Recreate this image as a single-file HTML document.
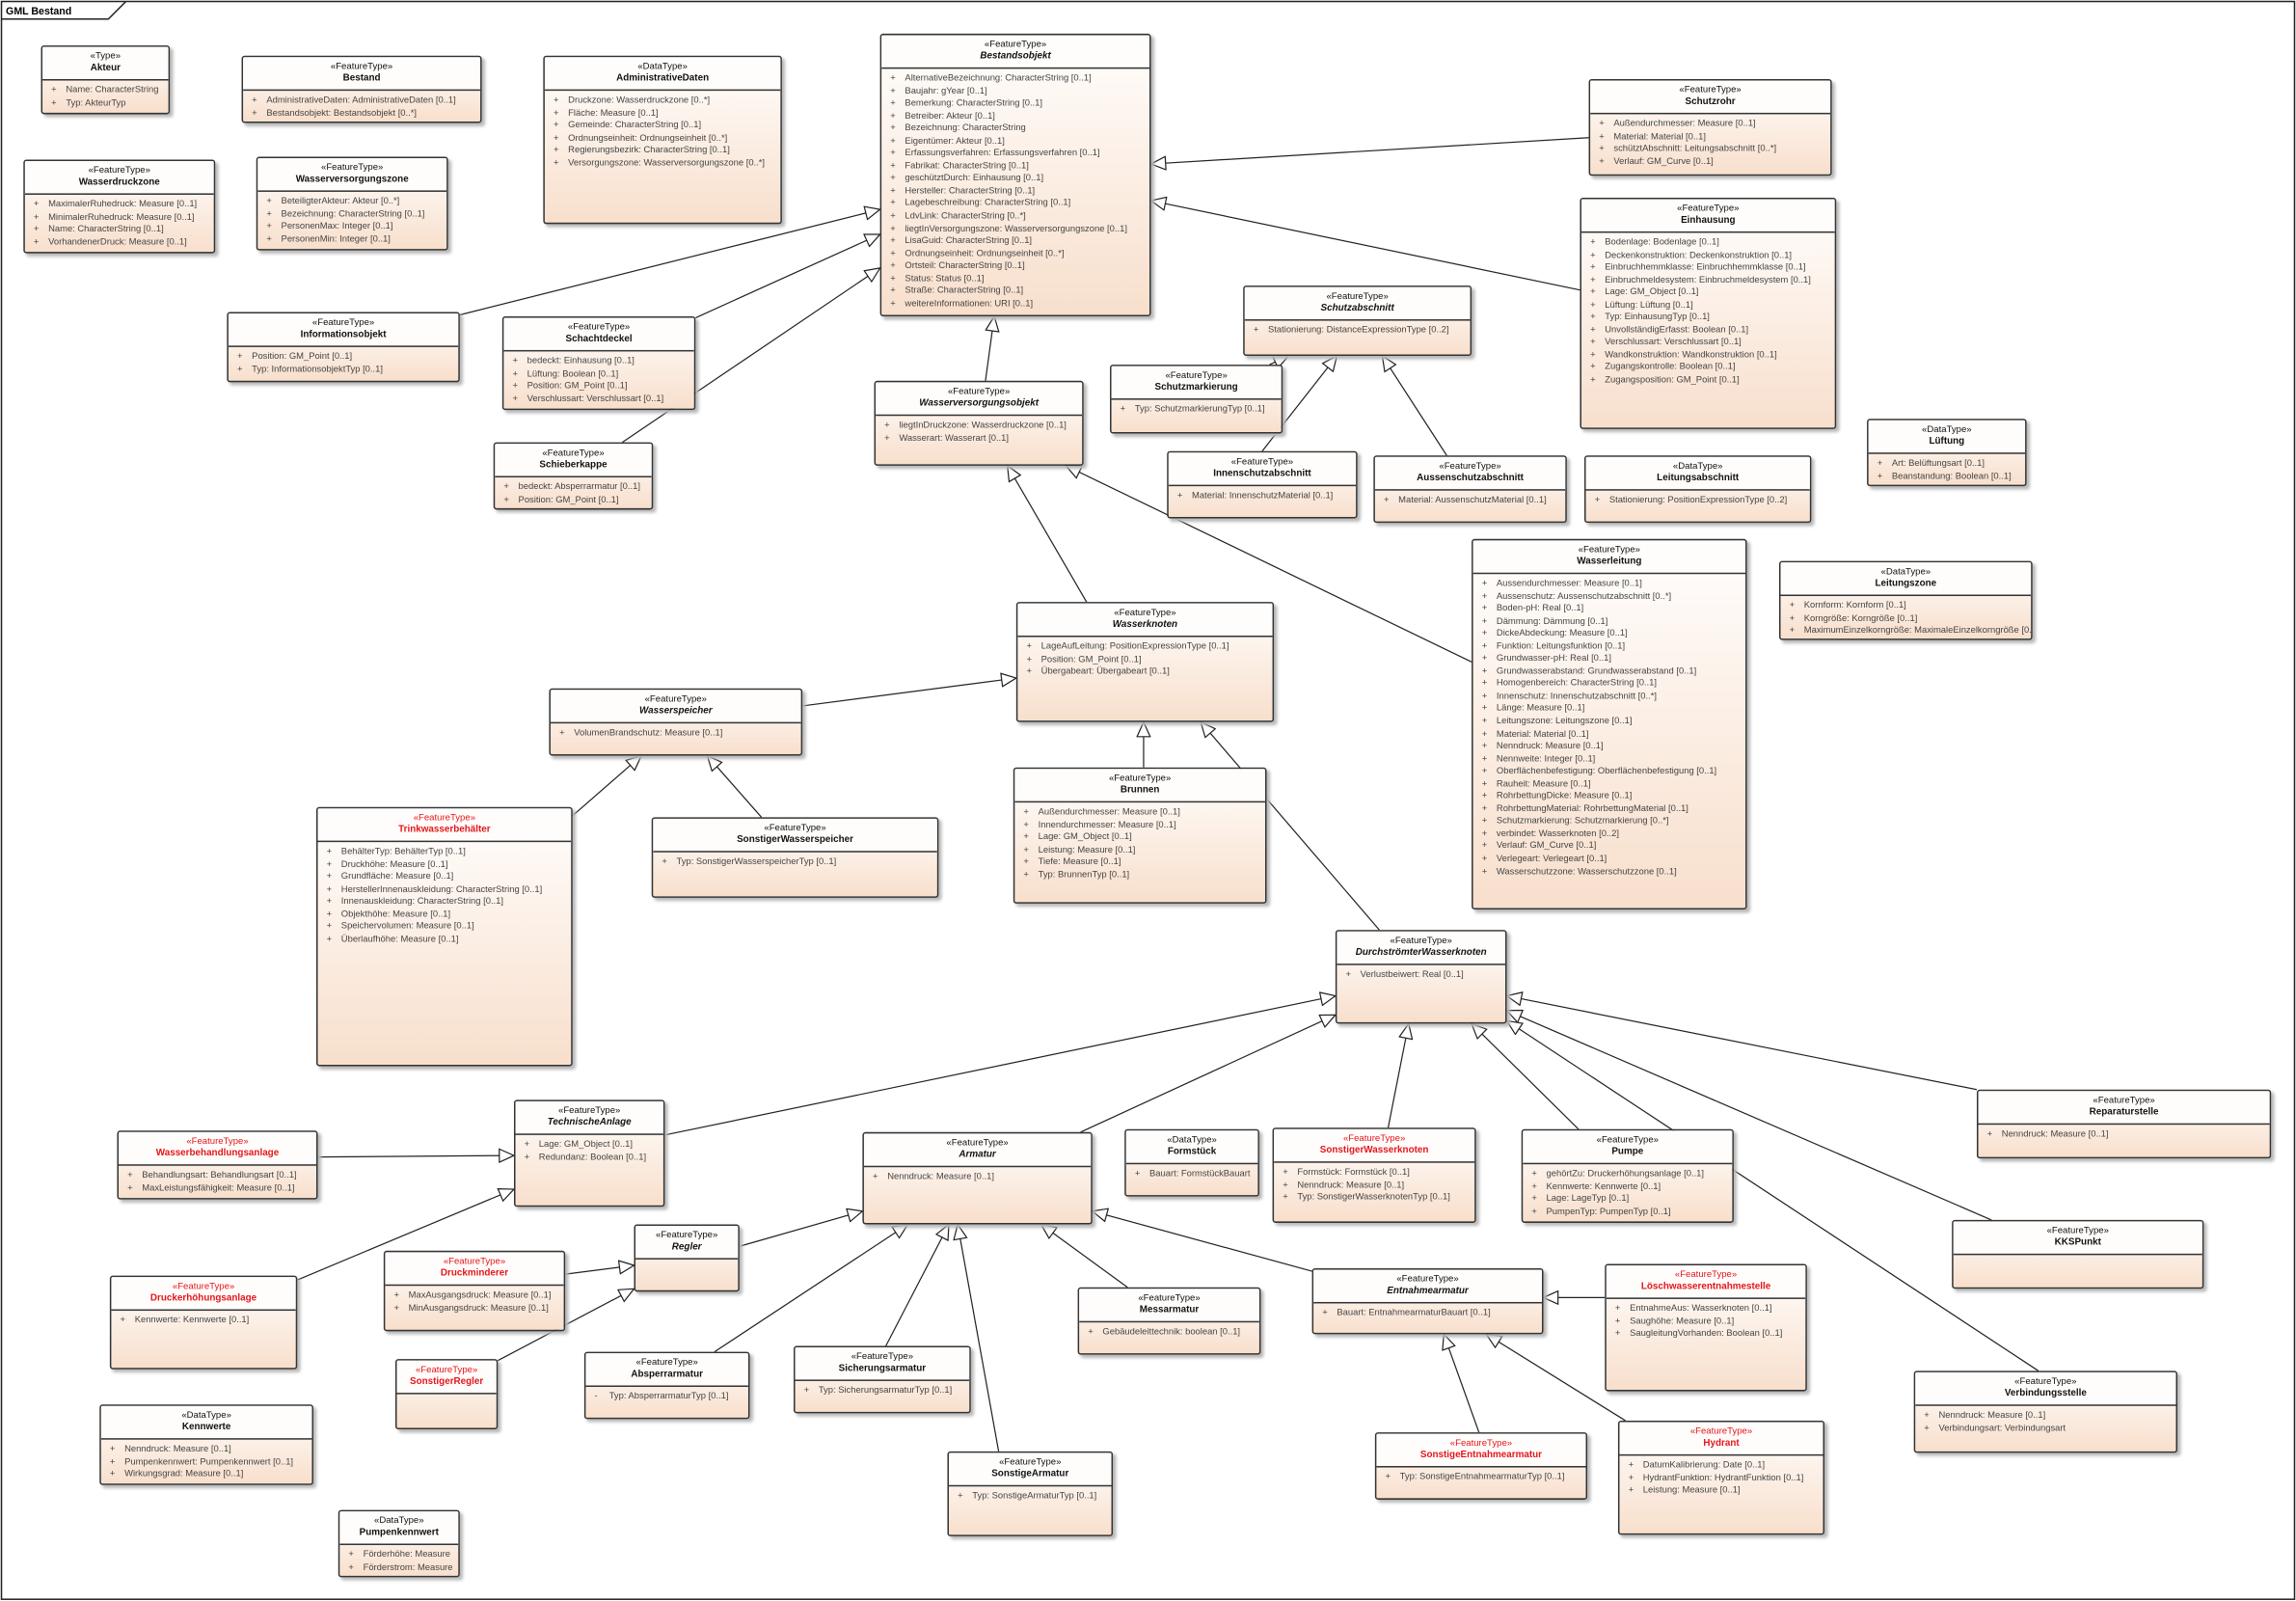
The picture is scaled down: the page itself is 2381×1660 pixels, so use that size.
<!DOCTYPE html>
<html><head><meta charset="utf-8">
<style>
html,body{margin:0;padding:0;background:#fff;width:2381px;height:1660px;overflow:hidden}
#c{position:absolute;left:0;top:0;width:1568px;height:1093px;transform:scale(1.5185);transform-origin:0 0;font-family:"Liberation Sans",sans-serif}
.b{position:absolute;box-sizing:border-box;border:1px solid #333;border-radius:2px;background:linear-gradient(#fffefd,#f8dfcc);box-shadow:2px 2px 2px #b8b8b8;overflow:hidden}
.h{text-align:center;border-bottom:1px solid #333;padding:3px 0 3px;background:#fffdfb}
.s{font-size:6.3px;line-height:8px;color:#111}
.n{font-size:6.5px;line-height:8px;font-weight:bold;color:#111}
.i .n{font-style:italic}
.r .s,.r .n{color:#e3161b}
.a{padding:3px 0 0 6px;font-size:6.2px;color:#444}
.a p{margin:0;white-space:nowrap;line-height:8.55px}
.a p span{display:inline-block;width:10px}
svg{position:absolute;left:0;top:0}
</style></head><body><div id="c">
<svg width="1568" height="1093" viewBox="0 0 1568 1093">
<defs><marker id="t" markerWidth="12" markerHeight="10" refX="11" refY="5" orient="auto" markerUnits="userSpaceOnUse"><path d="M1,0.5 L11,5 L1,9.5 Z" fill="#fff" stroke="#222" stroke-width="0.8"/></marker></defs>
<rect x="1" y="1" width="1566" height="1091" fill="none" stroke="#222" stroke-width="1"/>
<path d="M1,13 H74 L86,1" fill="none" stroke="#222" stroke-width="1"/>
<text x="4" y="10" font-size="7" font-weight="bold" font-family="Liberation Sans,sans-serif">GML Bestand</text>
<g stroke="#222" stroke-width="0.8" fill="none" marker-end="url(#t)">
<line x1="314" y1="215" x2="601" y2="143"/>
<line x1="475" y1="217" x2="601" y2="160"/>
<line x1="425" y1="302" x2="601" y2="183"/>
<line x1="1085" y1="94" x2="786" y2="112"/>
<line x1="1079" y1="198" x2="786" y2="137"/>
<line x1="673" y1="260" x2="679" y2="216"/>
<line x1="867" y1="249" x2="880" y2="243"/>
<line x1="862" y1="308" x2="913" y2="243"/>
<line x1="988" y1="311" x2="944" y2="243"/>
<line x1="742" y1="411" x2="688" y2="318"/>
<line x1="1005" y1="452" x2="728" y2="318"/>
<line x1="548" y1="482" x2="694" y2="463"/>
<line x1="391" y1="557" x2="438" y2="516"/>
<line x1="520" y1="558" x2="483" y2="516"/>
<line x1="781" y1="524" x2="781" y2="493"/>
<line x1="942" y1="635" x2="820" y2="493"/>
<line x1="454" y1="775" x2="912" y2="680"/>
<line x1="738" y1="773" x2="912" y2="693"/>
<line x1="948" y1="770" x2="962" y2="699"/>
<line x1="1078" y1="771" x2="1005" y2="699"/>
<line x1="1350" y1="744" x2="1029" y2="680"/>
<line x1="1360" y1="833" x2="1029" y2="690"/>
<line x1="1392" y1="936" x2="1029" y2="697"/>
<line x1="217" y1="790" x2="351" y2="789"/>
<line x1="203" y1="874" x2="351" y2="812"/>
<line x1="505" y1="851" x2="589" y2="827"/>
<line x1="386" y1="870" x2="433" y2="864"/>
<line x1="340" y1="929" x2="433" y2="880"/>
<line x1="488" y1="923" x2="620" y2="836"/>
<line x1="605" y1="919" x2="648" y2="836"/>
<line x1="682" y1="991" x2="654" y2="836"/>
<line x1="770" y1="879" x2="711" y2="836"/>
<line x1="896" y1="868" x2="746" y2="827"/>
<line x1="1096" y1="886" x2="1054" y2="886"/>
<line x1="1010" y1="978" x2="986" y2="911"/>
<line x1="1110" y1="970" x2="1015" y2="911"/>
</g>
</svg>

<div class="b" style="left:28px;top:31px;width:88px;height:47px"><div class="h"><div class="s">«Type»</div><div class="n">Akteur</div></div><div class="a"><p><span>+</span>Name: CharacterString</p><p><span>+</span>Typ: AkteurTyp</p></div></div>

<div class="b" style="left:165px;top:38px;width:164px;height:46px"><div class="h"><div class="s">«FeatureType»</div><div class="n">Bestand</div></div><div class="a"><p><span>+</span>AdministrativeDaten: AdministrativeDaten [0..1]</p><p><span>+</span>Bestandsobjekt: Bestandsobjekt [0..*]</p></div></div>

<div class="b" style="left:371px;top:38px;width:163px;height:115px"><div class="h"><div class="s">«DataType»</div><div class="n">AdministrativeDaten</div></div><div class="a"><p><span>+</span>Druckzone: Wasserdruckzone [0..*]</p><p><span>+</span>Fläche: Measure [0..1]</p><p><span>+</span>Gemeinde: CharacterString [0..1]</p><p><span>+</span>Ordnungseinheit: Ordnungseinheit [0..*]</p><p><span>+</span>Regierungsbezirk: CharacterString [0..1]</p><p><span>+</span>Versorgungszone: Wasserversorgungszone [0..*]</p></div></div>

<div class="b i" style="left:601px;top:23px;width:185px;height:193px"><div class="h"><div class="s">«FeatureType»</div><div class="n">Bestandsobjekt</div></div><div class="a"><p><span>+</span>AlternativeBezeichnung: CharacterString [0..1]</p><p><span>+</span>Baujahr: gYear [0..1]</p><p><span>+</span>Bemerkung: CharacterString [0..1]</p><p><span>+</span>Betreiber: Akteur [0..1]</p><p><span>+</span>Bezeichnung: CharacterString</p><p><span>+</span>Eigentümer: Akteur [0..1]</p><p><span>+</span>Erfassungsverfahren: Erfassungsverfahren [0..1]</p><p><span>+</span>Fabrikat: CharacterString [0..1]</p><p><span>+</span>geschütztDurch: Einhausung [0..1]</p><p><span>+</span>Hersteller: CharacterString [0..1]</p><p><span>+</span>Lagebeschreibung: CharacterString [0..1]</p><p><span>+</span>LdvLink: CharacterString [0..*]</p><p><span>+</span>liegtInVersorgungszone: Wasserversorgungszone [0..1]</p><p><span>+</span>LisaGuid: CharacterString [0..1]</p><p><span>+</span>Ordnungseinheit: Ordnungseinheit [0..*]</p><p><span>+</span>Ortsteil: CharacterString [0..1]</p><p><span>+</span>Status: Status [0..1]</p><p><span>+</span>Straße: CharacterString [0..1]</p><p><span>+</span>weitereInformationen: URI [0..1]</p></div></div>

<div class="b" style="left:1085px;top:54px;width:166px;height:66px"><div class="h"><div class="s">«FeatureType»</div><div class="n">Schutzrohr</div></div><div class="a"><p><span>+</span>Außendurchmesser: Measure [0..1]</p><p><span>+</span>Material: Material [0..1]</p><p><span>+</span>schütztAbschnitt: Leitungsabschnitt [0..*]</p><p><span>+</span>Verlauf: GM_Curve [0..1]</p></div></div>

<div class="b" style="left:1079px;top:135px;width:175px;height:158px"><div class="h"><div class="s">«FeatureType»</div><div class="n">Einhausung</div></div><div class="a"><p><span>+</span>Bodenlage: Bodenlage [0..1]</p><p><span>+</span>Deckenkonstruktion: Deckenkonstruktion [0..1]</p><p><span>+</span>Einbruchhemmklasse: Einbruchhemmklasse [0..1]</p><p><span>+</span>Einbruchmeldesystem: Einbruchmeldesystem [0..1]</p><p><span>+</span>Lage: GM_Object [0..1]</p><p><span>+</span>Lüftung: Lüftung [0..1]</p><p><span>+</span>Typ: EinhausungTyp [0..1]</p><p><span>+</span>UnvollständigErfasst: Boolean [0..1]</p><p><span>+</span>Verschlussart: Verschlussart [0..1]</p><p><span>+</span>Wandkonstruktion: Wandkonstruktion [0..1]</p><p><span>+</span>Zugangskontrolle: Boolean [0..1]</p><p><span>+</span>Zugangsposition: GM_Point [0..1]</p></div></div>

<div class="b" style="left:16px;top:109px;width:131px;height:64px"><div class="h"><div class="s">«FeatureType»</div><div class="n">Wasserdruckzone</div></div><div class="a"><p><span>+</span>MaximalerRuhedruck: Measure [0..1]</p><p><span>+</span>MinimalerRuhedruck: Measure [0..1]</p><p><span>+</span>Name: CharacterString [0..1]</p><p><span>+</span>VorhandenerDruck: Measure [0..1]</p></div></div>

<div class="b" style="left:175px;top:107px;width:131px;height:64px"><div class="h"><div class="s">«FeatureType»</div><div class="n">Wasserversorgungszone</div></div><div class="a"><p><span>+</span>BeteiligterAkteur: Akteur [0..*]</p><p><span>+</span>Bezeichnung: CharacterString [0..1]</p><p><span>+</span>PersonenMax: Integer [0..1]</p><p><span>+</span>PersonenMin: Integer [0..1]</p></div></div>

<div class="b" style="left:155px;top:213px;width:159px;height:48px"><div class="h"><div class="s">«FeatureType»</div><div class="n">Informationsobjekt</div></div><div class="a"><p><span>+</span>Position: GM_Point [0..1]</p><p><span>+</span>Typ: InformationsobjektTyp [0..1]</p></div></div>

<div class="b" style="left:343px;top:216px;width:132px;height:64px"><div class="h"><div class="s">«FeatureType»</div><div class="n">Schachtdeckel</div></div><div class="a"><p><span>+</span>bedeckt: Einhausung [0..1]</p><p><span>+</span>Lüftung: Boolean [0..1]</p><p><span>+</span>Position: GM_Point [0..1]</p><p><span>+</span>Verschlussart: Verschlussart [0..1]</p></div></div>

<div class="b" style="left:337px;top:302px;width:109px;height:46px"><div class="h"><div class="s">«FeatureType»</div><div class="n">Schieberkappe</div></div><div class="a"><p><span>+</span>bedeckt: Absperrarmatur [0..1]</p><p><span>+</span>Position: GM_Point [0..1]</p></div></div>

<div class="b i" style="left:849px;top:195px;width:156px;height:48px"><div class="h"><div class="s">«FeatureType»</div><div class="n">Schutzabschnitt</div></div><div class="a"><p><span>+</span>Stationierung: DistanceExpressionType [0..2]</p></div></div>

<div class="b" style="left:758px;top:249px;width:118px;height:47px"><div class="h"><div class="s">«FeatureType»</div><div class="n">Schutzmarkierung</div></div><div class="a"><p><span>+</span>Typ: SchutzmarkierungTyp [0..1]</p></div></div>

<div class="b i" style="left:597px;top:260px;width:143px;height:58px"><div class="h"><div class="s">«FeatureType»</div><div class="n">Wasserversorgungsobjekt</div></div><div class="a"><p><span>+</span>liegtInDruckzone: Wasserdruckzone [0..1]</p><p><span>+</span>Wasserart: Wasserart [0..1]</p></div></div>

<div class="b" style="left:797px;top:308px;width:130px;height:46px"><div class="h"><div class="s">«FeatureType»</div><div class="n">Innenschutzabschnitt</div></div><div class="a"><p><span>+</span>Material: InnenschutzMaterial [0..1]</p></div></div>

<div class="b" style="left:938px;top:311px;width:132px;height:46px"><div class="h"><div class="s">«FeatureType»</div><div class="n">Aussenschutzabschnitt</div></div><div class="a"><p><span>+</span>Material: AussenschutzMaterial [0..1]</p></div></div>

<div class="b" style="left:1082px;top:311px;width:155px;height:46px"><div class="h"><div class="s">«DataType»</div><div class="n">Leitungsabschnitt</div></div><div class="a"><p><span>+</span>Stationierung: PositionExpressionType [0..2]</p></div></div>

<div class="b" style="left:1275px;top:286px;width:109px;height:46px"><div class="h"><div class="s">«DataType»</div><div class="n">Lüftung</div></div><div class="a"><p><span>+</span>Art: Belüftungsart [0..1]</p><p><span>+</span>Beanstandung: Boolean [0..1]</p></div></div>

<div class="b" style="left:1005px;top:368px;width:188px;height:253px"><div class="h"><div class="s">«FeatureType»</div><div class="n">Wasserleitung</div></div><div class="a"><p><span>+</span>Aussendurchmesser: Measure [0..1]</p><p><span>+</span>Aussenschutz: Aussenschutzabschnitt [0..*]</p><p><span>+</span>Boden-pH: Real [0..1]</p><p><span>+</span>Dämmung: Dämmung [0..1]</p><p><span>+</span>DickeAbdeckung: Measure [0..1]</p><p><span>+</span>Funktion: Leitungsfunktion [0..1]</p><p><span>+</span>Grundwasser-pH: Real [0..1]</p><p><span>+</span>Grundwasserabstand: Grundwasserabstand [0..1]</p><p><span>+</span>Homogenbereich: CharacterString [0..1]</p><p><span>+</span>Innenschutz: Innenschutzabschnitt [0..*]</p><p><span>+</span>Länge: Measure [0..1]</p><p><span>+</span>Leitungszone: Leitungszone [0..1]</p><p><span>+</span>Material: Material [0..1]</p><p><span>+</span>Nenndruck: Measure [0..1]</p><p><span>+</span>Nennweite: Integer [0..1]</p><p><span>+</span>Oberflächenbefestigung: Oberflächenbefestigung [0..1]</p><p><span>+</span>Rauheit: Measure [0..1]</p><p><span>+</span>RohrbettungDicke: Measure [0..1]</p><p><span>+</span>RohrbettungMaterial: RohrbettungMaterial [0..1]</p><p><span>+</span>Schutzmarkierung: Schutzmarkierung [0..*]</p><p><span>+</span>verbindet: Wasserknoten [0..2]</p><p><span>+</span>Verlauf: GM_Curve [0..1]</p><p><span>+</span>Verlegeart: Verlegeart [0..1]</p><p><span>+</span>Wasserschutzzone: Wasserschutzzone [0..1]</p></div></div>

<div class="b" style="left:1215px;top:383px;width:173px;height:54px"><div class="h"><div class="s">«DataType»</div><div class="n">Leitungszone</div></div><div class="a"><p><span>+</span>Kornform: Kornform [0..1]</p><p><span>+</span>Korngröße: Korngröße [0..1]</p><p><span>+</span>MaximumEinzelkorngröße: MaximaleEinzelkorngröße [0..1]</p></div></div>

<div class="b i" style="left:694px;top:411px;width:176px;height:82px"><div class="h"><div class="s">«FeatureType»</div><div class="n">Wasserknoten</div></div><div class="a"><p><span>+</span>LageAufLeitung: PositionExpressionType [0..1]</p><p><span>+</span>Position: GM_Point [0..1]</p><p><span>+</span>Übergabeart: Übergabeart [0..1]</p></div></div>

<div class="b i" style="left:375px;top:470px;width:173px;height:46px"><div class="h"><div class="s">«FeatureType»</div><div class="n">Wasserspeicher</div></div><div class="a"><p><span>+</span>VolumenBrandschutz: Measure [0..1]</p></div></div>

<div class="b" style="left:692px;top:524px;width:173px;height:93px"><div class="h"><div class="s">«FeatureType»</div><div class="n">Brunnen</div></div><div class="a"><p><span>+</span>Außendurchmesser: Measure [0..1]</p><p><span>+</span>Innendurchmesser: Measure [0..1]</p><p><span>+</span>Lage: GM_Object [0..1]</p><p><span>+</span>Leistung: Measure [0..1]</p><p><span>+</span>Tiefe: Measure [0..1]</p><p><span>+</span>Typ: BrunnenTyp [0..1]</p></div></div>

<div class="b r" style="left:216px;top:551px;width:175px;height:177px"><div class="h"><div class="s">«FeatureType»</div><div class="n">Trinkwasserbehälter</div></div><div class="a"><p><span>+</span>BehälterTyp: BehälterTyp [0..1]</p><p><span>+</span>Druckhöhe: Measure [0..1]</p><p><span>+</span>Grundfläche: Measure [0..1]</p><p><span>+</span>HerstellerInnenauskleidung: CharacterString [0..1]</p><p><span>+</span>Innenauskleidung: CharacterString [0..1]</p><p><span>+</span>Objekthöhe: Measure [0..1]</p><p><span>+</span>Speichervolumen: Measure [0..1]</p><p><span>+</span>Überlaufhöhe: Measure [0..1]</p></div></div>

<div class="b" style="left:445px;top:558px;width:196px;height:55px"><div class="h"><div class="s">«FeatureType»</div><div class="n">SonstigerWasserspeicher</div></div><div class="a"><p><span>+</span>Typ: SonstigerWasserspeicherTyp [0..1]</p></div></div>

<div class="b i" style="left:912px;top:635px;width:117px;height:64px"><div class="h"><div class="s">«FeatureType»</div><div class="n">DurchströmterWasserknoten</div></div><div class="a"><p><span>+</span>Verlustbeiwert: Real [0..1]</p></div></div>

<div class="b i" style="left:351px;top:751px;width:103px;height:73px"><div class="h"><div class="s">«FeatureType»</div><div class="n">TechnischeAnlage</div></div><div class="a"><p><span>+</span>Lage: GM_Object [0..1]</p><p><span>+</span>Redundanz: Boolean [0..1]</p></div></div>

<div class="b r" style="left:80px;top:772px;width:137px;height:47px"><div class="h"><div class="s">«FeatureType»</div><div class="n">Wasserbehandlungsanlage</div></div><div class="a"><p><span>+</span>Behandlungsart: Behandlungsart [0..1]</p><p><span>+</span>MaxLeistungsfähigkeit: Measure [0..1]</p></div></div>

<div class="b i" style="left:589px;top:773px;width:157px;height:63px"><div class="h"><div class="s">«FeatureType»</div><div class="n">Armatur</div></div><div class="a"><p><span>+</span>Nenndruck: Measure [0..1]</p></div></div>

<div class="b" style="left:768px;top:771px;width:92px;height:46px"><div class="h"><div class="s">«DataType»</div><div class="n">Formstück</div></div><div class="a"><p><span>+</span>Bauart: FormstückBauart</p></div></div>

<div class="b r" style="left:869px;top:770px;width:139px;height:65px"><div class="h"><div class="s">«FeatureType»</div><div class="n">SonstigerWasserknoten</div></div><div class="a"><p><span>+</span>Formstück: Formstück [0..1]</p><p><span>+</span>Nenndruck: Measure [0..1]</p><p><span>+</span>Typ: SonstigerWasserknotenTyp [0..1]</p></div></div>

<div class="b" style="left:1039px;top:771px;width:145px;height:64px"><div class="h"><div class="s">«FeatureType»</div><div class="n">Pumpe</div></div><div class="a"><p><span>+</span>gehörtZu: Druckerhöhungsanlage [0..1]</p><p><span>+</span>Kennwerte: Kennwerte [0..1]</p><p><span>+</span>Lage: LageTyp [0..1]</p><p><span>+</span>PumpenTyp: PumpenTyp [0..1]</p></div></div>

<div class="b" style="left:1350px;top:744px;width:201px;height:47px"><div class="h"><div class="s">«FeatureType»</div><div class="n">Reparaturstelle</div></div><div class="a"><p><span>+</span>Nenndruck: Measure [0..1]</p></div></div>

<div class="b r" style="left:75px;top:871px;width:128px;height:64px"><div class="h"><div class="s">«FeatureType»</div><div class="n">Druckerhöhungsanlage</div></div><div class="a"><p><span>+</span>Kennwerte: Kennwerte [0..1]</p></div></div>

<div class="b i" style="left:433px;top:836px;width:72px;height:46px"><div class="h"><div class="s">«FeatureType»</div><div class="n">Regler</div></div></div>

<div class="b r" style="left:262px;top:854px;width:124px;height:55px"><div class="h"><div class="s">«FeatureType»</div><div class="n">Druckminderer</div></div><div class="a"><p><span>+</span>MaxAusgangsdruck: Measure [0..1]</p><p><span>+</span>MinAusgangsdruck: Measure [0..1]</p></div></div>

<div class="b r" style="left:270px;top:928px;width:70px;height:48px"><div class="h" style="border-bottom:1px solid #333"><div class="s">«FeatureType»</div><div class="n">SonstigerRegler</div></div></div>

<div class="b" style="left:399px;top:923px;width:113px;height:46px"><div class="h"><div class="s">«FeatureType»</div><div class="n">Absperrarmatur</div></div><div class="a"><p><span>-</span>Typ: AbsperrarmaturTyp [0..1]</p></div></div>

<div class="b" style="left:542px;top:919px;width:121px;height:46px"><div class="h"><div class="s">«FeatureType»</div><div class="n">Sicherungsarmatur</div></div><div class="a"><p><span>+</span>Typ: SicherungsarmaturTyp [0..1]</p></div></div>

<div class="b" style="left:736px;top:879px;width:125px;height:46px"><div class="h"><div class="s">«FeatureType»</div><div class="n">Messarmatur</div></div><div class="a"><p><span>+</span>Gebäudeleittechnik: boolean [0..1]</p></div></div>

<div class="b i" style="left:896px;top:866px;width:158px;height:45px"><div class="h"><div class="s">«FeatureType»</div><div class="n">Entnahmearmatur</div></div><div class="a"><p><span>+</span>Bauart: EntnahmearmaturBauart [0..1]</p></div></div>

<div class="b r" style="left:1096px;top:863px;width:138px;height:87px"><div class="h"><div class="s">«FeatureType»</div><div class="n">Löschwasserentnahmestelle</div></div><div class="a"><p><span>+</span>EntnahmeAus: Wasserknoten [0..1]</p><p><span>+</span>Saughöhe: Measure [0..1]</p><p><span>+</span>SaugleitungVorhanden: Boolean [0..1]</p></div></div>

<div class="b" style="left:1333px;top:833px;width:172px;height:47px"><div class="h"><div class="s">«FeatureType»</div><div class="n">KKSPunkt</div></div></div>

<div class="b" style="left:68px;top:959px;width:146px;height:55px"><div class="h"><div class="s">«DataType»</div><div class="n">Kennwerte</div></div><div class="a"><p><span>+</span>Nenndruck: Measure [0..1]</p><p><span>+</span>Pumpenkennwert: Pumpenkennwert [0..1]</p><p><span>+</span>Wirkungsgrad: Measure [0..1]</p></div></div>

<div class="b" style="left:647px;top:991px;width:113px;height:58px"><div class="h"><div class="s">«FeatureType»</div><div class="n">SonstigeArmatur</div></div><div class="a"><p><span>+</span>Typ: SonstigeArmaturTyp [0..1]</p></div></div>

<div class="b r" style="left:939px;top:978px;width:145px;height:46px"><div class="h"><div class="s">«FeatureType»</div><div class="n">SonstigeEntnahmearmatur</div></div><div class="a"><p><span>+</span>Typ: SonstigeEntnahmearmaturTyp [0..1]</p></div></div>

<div class="b r" style="left:1105px;top:970px;width:141px;height:78px"><div class="h"><div class="s">«FeatureType»</div><div class="n">Hydrant</div></div><div class="a"><p><span>+</span>DatumKalibrierung: Date [0..1]</p><p><span>+</span>HydrantFunktion: HydrantFunktion [0..1]</p><p><span>+</span>Leistung: Measure [0..1]</p></div></div>

<div class="b" style="left:1307px;top:936px;width:180px;height:56px"><div class="h"><div class="s">«FeatureType»</div><div class="n">Verbindungsstelle</div></div><div class="a"><p><span>+</span>Nenndruck: Measure [0..1]</p><p><span>+</span>Verbindungsart: Verbindungsart</p></div></div>

<div class="b" style="left:231px;top:1031px;width:83px;height:46px"><div class="h"><div class="s">«DataType»</div><div class="n">Pumpenkennwert</div></div><div class="a"><p><span>+</span>Förderhöhe: Measure</p><p><span>+</span>Förderstrom: Measure</p></div></div>

</div></body></html>
